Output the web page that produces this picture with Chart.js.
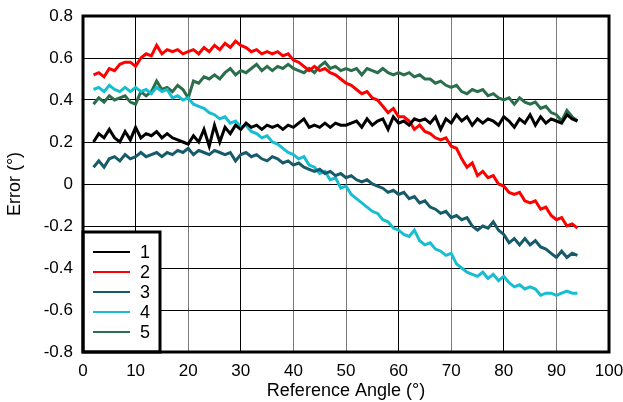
<!DOCTYPE html>
<html>
<head>
<meta charset="utf-8">
<script src="https://cdn.jsdelivr.net/npm/chart.js@4/dist/chart.umd.min.js"></script>
<style>
  html, body { margin: 0; padding: 0; background: #fff; }
  #wrap { width: 623px; height: 402px; position: relative; }
</style>
</head>
<body>
<div id="wrap"><canvas id="chart"></canvas></div>
<script>
const angles = [2, 3, 4, 5, 6, 7, 8, 9, 10, 11, 12, 13, 14, 15, 16, 17, 18, 19, 20, 21,
  22, 23, 24, 25, 26, 27, 28, 29, 30, 31, 32, 33, 34, 35, 36, 37, 38, 39, 40, 41,
  42, 43, 44, 45, 46, 47, 48, 49, 50, 51, 52, 53, 54, 55, 56, 57, 58, 59, 60, 61,
  62, 63, 64, 65, 66, 67, 68, 69, 70, 71, 72, 73, 74, 75, 76, 77, 78, 79, 80, 81,
  82, 83, 84, 85, 86, 87, 88, 89, 90, 91, 92, 93, 94];

const series1 = [0.2, 0.24, 0.22, 0.26, 0.22, 0.2, 0.25, 0.21, 0.27, 0.22, 0.24, 0.23, 0.25, 0.22, 0.24, 0.22, 0.21, 0.2, 0.19, 0.23,
  0.2, 0.26, 0.18, 0.28, 0.2, 0.27, 0.24, 0.28, 0.26, 0.29, 0.27, 0.28, 0.26, 0.28, 0.27, 0.28, 0.26, 0.28, 0.27, 0.29,
  0.31, 0.27, 0.28, 0.27, 0.29, 0.27, 0.29, 0.28, 0.28, 0.29, 0.3, 0.27, 0.31, 0.28, 0.3, 0.31, 0.26, 0.32, 0.29, 0.3,
  0.28, 0.31, 0.3, 0.31, 0.29, 0.32, 0.26, 0.31, 0.29, 0.33, 0.3, 0.32, 0.28, 0.31, 0.29, 0.31, 0.3, 0.28, 0.32, 0.3,
  0.27, 0.31, 0.29, 0.33, 0.28, 0.32, 0.29, 0.31, 0.3, 0.29, 0.33, 0.31, 0.3];

const series2 = [0.52, 0.53, 0.51, 0.55, 0.54, 0.57, 0.58, 0.58, 0.56, 0.6, 0.62, 0.61, 0.66, 0.62, 0.64, 0.63, 0.64, 0.62, 0.63, 0.64,
  0.62, 0.65, 0.63, 0.66, 0.64, 0.67, 0.65, 0.68, 0.66, 0.65, 0.63, 0.64, 0.62, 0.63, 0.62, 0.63, 0.61, 0.62, 0.59, 0.58,
  0.56, 0.54, 0.56, 0.54, 0.55, 0.53, 0.52, 0.5, 0.48, 0.47, 0.45, 0.43, 0.44, 0.41, 0.4, 0.37, 0.34, 0.36, 0.32, 0.32,
  0.3, 0.26, 0.28, 0.25, 0.24, 0.22, 0.21, 0.22, 0.18, 0.17, 0.12, 0.08, 0.1, 0.04, 0.06, 0.03, 0.04, 0.0, -0.01, -0.04,
  -0.05, -0.04, -0.08, -0.09, -0.08, -0.12, -0.11, -0.15, -0.17, -0.16, -0.2, -0.19, -0.21];

const series3 = [0.08, 0.11, 0.08, 0.12, 0.13, 0.11, 0.14, 0.12, 0.13, 0.15, 0.13, 0.14, 0.15, 0.13, 0.15, 0.14, 0.16, 0.15, 0.17, 0.14,
  0.16, 0.15, 0.14, 0.16, 0.15, 0.14, 0.15, 0.11, 0.14, 0.15, 0.13, 0.14, 0.12, 0.11, 0.13, 0.12, 0.1, 0.11, 0.09, 0.1,
  0.08, 0.07, 0.06, 0.07, 0.05, 0.06, 0.04, 0.05, 0.03, 0.04, 0.02, 0.01, 0.02, 0.0, -0.01, -0.02, -0.04, -0.03, -0.05, -0.04,
  -0.07, -0.06, -0.09, -0.08, -0.11, -0.12, -0.14, -0.13, -0.16, -0.15, -0.17, -0.16, -0.2, -0.22, -0.2, -0.21, -0.18, -0.22, -0.24, -0.28,
  -0.26, -0.29, -0.26, -0.29, -0.27, -0.3, -0.31, -0.33, -0.35, -0.32, -0.35, -0.33, -0.34];

const series4 = [0.45, 0.46, 0.44, 0.47, 0.45, 0.44, 0.46, 0.44, 0.46, 0.44, 0.45, 0.43, 0.46, 0.44, 0.45, 0.41, 0.42, 0.4, 0.41, 0.38,
  0.37, 0.36, 0.34, 0.33, 0.31, 0.32, 0.29, 0.3, 0.27, 0.28, 0.25, 0.24, 0.22, 0.23, 0.2, 0.19, 0.17, 0.15, 0.14, 0.12,
  0.13, 0.09, 0.08, 0.05, 0.06, 0.02, 0.03, -0.02, -0.01, -0.05, -0.07, -0.09, -0.11, -0.13, -0.14, -0.17, -0.18, -0.21, -0.22, -0.24,
  -0.25, -0.22, -0.27, -0.29, -0.28, -0.31, -0.32, -0.34, -0.33, -0.38, -0.4, -0.42, -0.43, -0.44, -0.42, -0.45, -0.43, -0.46, -0.44, -0.47,
  -0.49, -0.48, -0.5, -0.49, -0.5, -0.53, -0.52, -0.52, -0.53, -0.52, -0.51, -0.52, -0.52];

const series5 = [0.38, 0.41, 0.39, 0.42, 0.4, 0.41, 0.42, 0.39, 0.38, 0.44, 0.42, 0.44, 0.49, 0.45, 0.46, 0.44, 0.47, 0.45, 0.41, 0.49,
  0.48, 0.51, 0.5, 0.52, 0.5, 0.53, 0.55, 0.52, 0.54, 0.53, 0.55, 0.57, 0.54, 0.56, 0.54, 0.56, 0.55, 0.57, 0.55, 0.54,
  0.53, 0.55, 0.53, 0.56, 0.58, 0.55, 0.56, 0.54, 0.55, 0.54, 0.55, 0.52, 0.55, 0.54, 0.53, 0.55, 0.53, 0.52, 0.53, 0.52,
  0.53, 0.51, 0.52, 0.5, 0.5, 0.48, 0.49, 0.47, 0.46, 0.47, 0.44, 0.43, 0.45, 0.44, 0.45, 0.42, 0.43, 0.41, 0.4, 0.41,
  0.38, 0.41, 0.39, 0.38, 0.39, 0.36, 0.37, 0.34, 0.33, 0.3, 0.35, 0.32, 0.3];

const seriesNames = ["1", "2", "3", "4", "5"];
const seriesColors = ["#000000", "#ff0000", "#175b6b", "#17bdd0", "#2b6e4c"];
const xTicks = [0, 10, 20, 30, 40, 50, 60, 70, 80, 90, 100];
const yTicks = [-0.8, -0.6, -0.4, -0.2, 0, 0.2, 0.4, 0.6, 0.8];
const grayLines = [20, 40, 50, 70, 90];

const allSeries = [series1, series2, series3, series4, series5];
const FONT = "'Liberation Sans', Arial, sans-serif";

// frame round the plot area plus the boxed legend in the lower left
const framePlugin = {
  id: "frame",
  afterDraw(chart) {
    const { ctx, chartArea } = chart;
    ctx.save();
    // legend box
    const left = chartArea.left, bottom = chartArea.bottom;
    const top = bottom - 120, right = left + 77;
    ctx.fillStyle = "#fff";
    ctx.fillRect(left, top, right - left, bottom - top);
    ctx.lineWidth = 3;
    ctx.strokeStyle = "#000";
    ctx.strokeRect(left, top, right - left, bottom - top);
    ctx.font = "18px " + FONT;
    ctx.textBaseline = "middle";
    chart.data.datasets.forEach((ds, i) => {
      const y = top + 20 + i * 20;
      ctx.beginPath();
      ctx.strokeStyle = ds.borderColor;
      ctx.lineWidth = 2;
      ctx.moveTo(left + 10, y);
      ctx.lineTo(left + 47, y);
      ctx.stroke();
      ctx.fillStyle = "#000";
      ctx.fillText(ds.label, left + 57, y + 1);
    });
    // outer frame
    ctx.lineWidth = 3;
    ctx.strokeStyle = "#000";
    ctx.strokeRect(chartArea.left, chartArea.top, chartArea.right - chartArea.left, chartArea.bottom - chartArea.top);
    ctx.restore();
  }
};

new Chart(document.getElementById("chart"), {
  type: "line",
  data: {
    datasets: allSeries.map((vals, i) => ({
      label: seriesNames[i],
      data: angles.map((a, j) => ({ x: a, y: vals[j] })),
      borderColor: seriesColors[i],
      backgroundColor: seriesColors[i],
      borderWidth: 3,
      pointRadius: 0,
      tension: 0,
      fill: false
    }))
  },
  options: {
    responsive: true,
    maintainAspectRatio: false,
    animation: false,
    layout: { padding: { top: 16, right: 14, left: 0, bottom: 0 } },
    plugins: { legend: { display: false }, tooltip: { enabled: false } },
    scales: {
      x: {
        type: "linear",
        min: 0,
        max: 100,
        afterBuildTicks: (s) => { s.ticks = xTicks.map(v => ({ value: v })); },
        afterFit: (s) => { s.height = 50; s.paddingLeft = 0; s.paddingRight = 0; },
        grid: {
          drawTicks: false,
          lineWidth: 1,
          color: (c) => grayLines.includes(c.tick && c.tick.value) ? "#7a7a7a" : "#000"
        },
        border: { display: false },
        ticks: { color: "#000", padding: 9, maxRotation: 0, font: { family: FONT, size: 17 } },
        title: {
          display: true,
          text: "Reference Angle (°)",
          color: "#000",
          padding: { top: 0, bottom: 0 },
          font: { family: FONT, size: 18 }
        }
      },
      y: {
        min: -0.8,
        max: 0.8,
        afterBuildTicks: (s) => { s.ticks = yTicks.map(v => ({ value: v })); },
        afterFit: (s) => { s.width = 83; s.paddingTop = 0; s.paddingBottom = 0; },
        grid: { drawTicks: false, lineWidth: 1, color: "#000" },
        border: { display: false },
        ticks: {
          color: "#000",
          padding: 10,
          font: { family: FONT, size: 17 },
          callback: (v) => String(Math.round(v * 10) / 10)
        },
        title: {
          display: true,
          text: "Error (°)",
          color: "#000",
          padding: { top: 4, bottom: 0 },
          font: { family: FONT, size: 18 }
        }
      }
    }
  },
  plugins: [framePlugin]
});
</script>
</body>
</html>
